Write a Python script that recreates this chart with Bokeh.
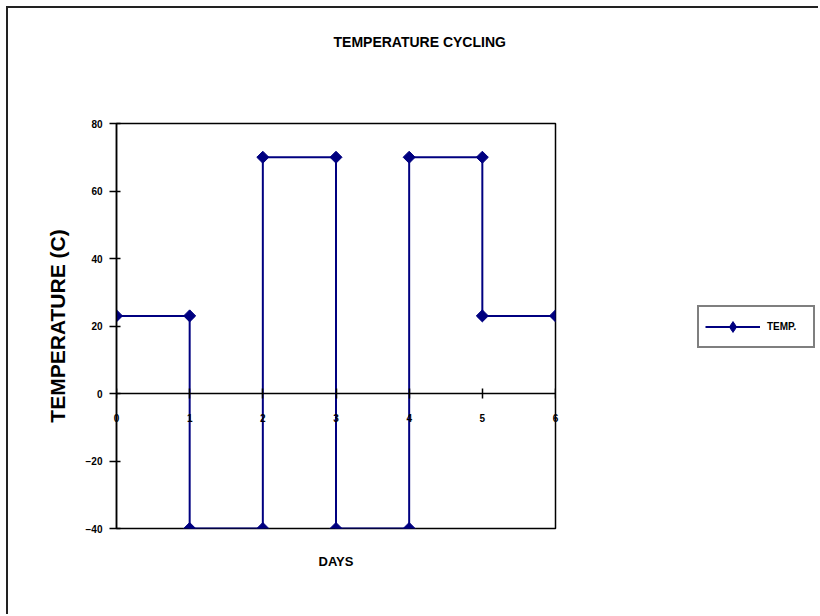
import math
from bokeh.plotting import figure
from bokeh.layouts import row
from bokeh.models import (LinearAxis, FixedTicker, Legend, LegendItem, Title,
                          Range1d, ColumnDataSource)
from bokeh.embed import file_html
from bokeh.resources import INLINE

# ---- data ----
days = [0, 1, 1, 2, 2, 3, 3, 4, 4, 5, 5, 6]
temp = [23, 23, -40, -40, 70, 70, -40, -40, 70, 70, 23, 23]
x_ticks = [0, 1, 2, 3, 4, 5, 6]
y_ticks = [-40, -20, 0, 20, 40, 60, 80]
title_text = "TEMPERATURE CYCLING"
x_label = "DAYS"
y_label = "TEMPERATURE (C)"
series_name = "TEMP."

FONT = "Liberation Sans"
NAVY = "#000080"

src = ColumnDataSource(dict(x=days, y=temp))

p = figure(width=600, height=606,
           x_range=Range1d(x_ticks[0], x_ticks[-1]),
           y_range=Range1d(y_ticks[0], y_ticks[-1]),
           output_backend="svg", toolbar_location=None,
           x_axis_location=None, y_axis_location="left",
           min_border_left=108, min_border_right=53,
           min_border_top=115, min_border_bottom=86)
p.grid.visible = False
p.outline_line_color = "black"
p.outline_line_width = 1.5
p.background_fill_color = "white"
p.border_fill_color = "white"

# title (outermost in the top panel)
p.title.text = title_text
p.title.align = "left"
p.title.offset = 217
p.title.text_font = FONT
p.title.text_font_size = "14px"
p.title.text_font_style = "bold"
p.title.text_color = "black"
p.title.standoff = 24

# spacer between title and frame
p.add_layout(Title(text=" ", text_font_size="10px", standoff=49), "above")

# y axis
ya = p.yaxis[0]
ya.ticker = FixedTicker(ticks=y_ticks)
ya.axis_line_color = "black"
ya.axis_line_width = 1.5
ya.major_tick_in = 4
ya.major_tick_out = 7
ya.major_tick_line_width = 1.5
ya.minor_tick_line_color = None
ya.major_label_standoff = 7
ya.major_label_text_font = FONT
ya.major_label_text_font_size = "10px"
ya.major_label_text_font_style = "bold"
ya.major_label_text_color = "black"
ya.axis_label = y_label
ya.axis_label_text_font = FONT
ya.axis_label_text_font_size = "21px"
ya.axis_label_text_font_style = "bold"
ya.axis_label_text_color = "black"
ya.axis_label_standoff = 14

# x axis line + ticks crossing at zero
xa = LinearAxis(ticker=FixedTicker(ticks=x_ticks), fixed_location=0)
xa.axis_line_color = "black"
xa.axis_line_width = 1.5
xa.major_tick_in = 5
xa.major_tick_out = 5
xa.major_tick_line_width = 1.5
xa.minor_tick_line_color = None
xa.major_label_standoff = 0
xa.major_label_text_font_size = "0px"
xa.major_label_text_color = None
p.add_layout(xa, "below")

# x tick labels (just under the zero line) and axis title
xl = LinearAxis(ticker=FixedTicker(ticks=x_ticks))
xl.axis_line_color = None
xl.major_tick_line_color = None
xl.minor_tick_line_color = None
xl.major_tick_in = 0
xl.major_tick_out = 0
xl.major_label_standoff = -115
xl.major_label_text_font = FONT
xl.major_label_text_font_size = "10px"
xl.major_label_text_font_style = "bold"
xl.major_label_text_color = "black"
xl.axis_label = x_label
xl.axis_label_text_font = FONT
xl.axis_label_text_font_size = "13px"
xl.axis_label_text_font_style = "bold"
xl.axis_label_text_color = "black"
xl.axis_label_standoff = 129
p.add_layout(xl, "below")

# series
p.line("x", "y", source=src, line_color=NAVY, line_width=2)
p.scatter("x", "y", source=src, marker="square", angle=math.pi / 4,
          size=8.5, fill_color=NAVY, line_color=NAVY)

# ---- legend panel (second figure, right of the chart) ----
q = figure(width=210, height=606, x_range=Range1d(0, 1), y_range=Range1d(0, 1),
           output_backend="svg", toolbar_location=None,
           x_axis_location=None, y_axis_location=None,
           min_border_left=0, min_border_right=0,
           min_border_top=0, min_border_bottom=0)
q.grid.visible = False
q.outline_line_color = None
q.border_fill_color = "white"
nan = float("nan")
lsrc = ColumnDataSource(dict(x=[nan], y=[nan]))
lr = q.line("x", "y", source=lsrc, line_color=NAVY, line_width=2)
ls = q.scatter("x", "y", source=lsrc, marker="diamond", size=12,
               fill_color=NAVY, line_color=NAVY)

legend = Legend(items=[LegendItem(label=series_name, renderers=[lr, ls])],
                location=(89, 180), orientation="vertical",
                border_line_color="black", border_line_width=2,
                background_fill_color="white", background_fill_alpha=1,
                padding=6, margin=0, spacing=0,
                glyph_width=55, glyph_height=27, label_width=40,
                label_standoff=7, label_text_font=FONT,
                label_text_font_size="10px", label_text_font_style="bold",
                label_text_color="black")
q.add_layout(legend)

layout = row(p, q)
layout.styles = {"border-top": "2px solid #222", "border-left": "2px solid #222",
                 "margin-left": "6px", "margin-top": "6px"}

open("out.html", "w").write(file_html(layout, INLINE))
